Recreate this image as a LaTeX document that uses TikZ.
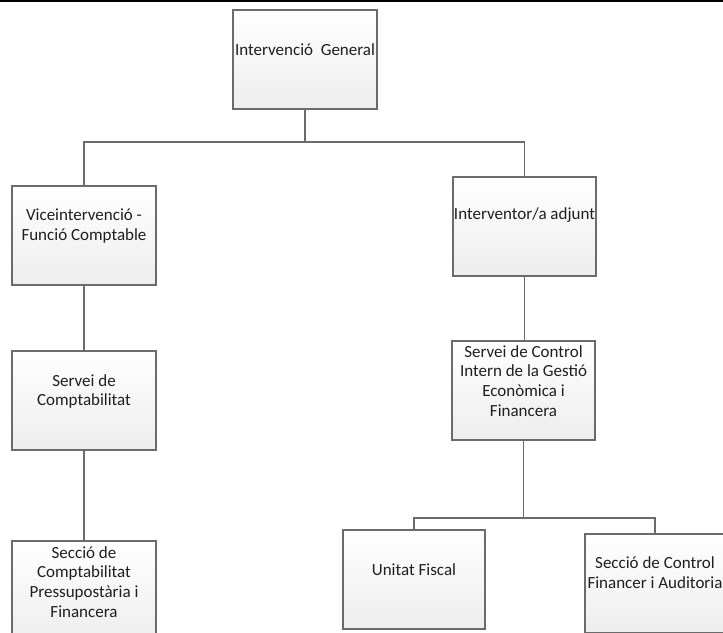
\documentclass[tikz,border=0pt]{standalone}
\usepackage{fontspec}
\setmainfont{Carlito}
\begin{document}
\begin{tikzpicture}[x=1pt,y=-1pt,
  box/.style={draw=black!58, line width=1.3pt, top color=white, bottom color=black!7, inner sep=0pt},
  lbl/.style={font=\fontsize{17}{19.8}\selectfont, text=black!88, align=center, inner sep=0pt},
  conn/.style={draw=black!58, line width=1.3pt}]
\useasboundingbox (0,0) rectangle (723,632);
\draw[line width=2pt] (0,0.8) -- (723,0.8);
% boxes
\node[box, minimum width=144, minimum height=99] (top) at (305,59.5) {};
\node[box, minimum width=144, minimum height=99] (vice) at (84,235.5) {};
\node[box, minimum width=143, minimum height=99] (adj) at (524.5,226.5) {};
\node[box, minimum width=144, minimum height=99] (servc) at (84,400.5) {};
\node[box, minimum width=144, minimum height=99] (secc) at (84,590.5) {};
\node[box, minimum width=143, minimum height=99] (servi) at (523.5,390.5) {};
\node[box, minimum width=142, minimum height=99] (fisc) at (414,579.5) {};
\node[box, minimum width=140, minimum height=99] (audit) at (655,583.5) {};
% texts
\node[lbl] (ttop) at (305,50) {Intervenció\ \ General};
\node[lbl] (tvice) at (84,226) {Viceintervenció -\\Funció Comptable};
\node[lbl] (tadj) at (524.5,215) {Interventor/a adjunt};
\node[lbl] (tservc) at (84,391.5) {Servei de\\Comptabilitat};
\node[lbl] (tsecc) at (84,582) {Secció de\\Comptabilitat\\Pressupostària i\\Financera};
\node[lbl] (tservi) at (523.5,381) {Servei de Control\\Intern de la Gestió\\Econòmica i\\Financera};
\node[lbl] (tfisc) at (414,570) {Unitat Fiscal};
\node[lbl] (taudit) at (655,572.5) {Secció de Control\\Financer i Auditoria};
% connectors
\coordinate (bus1) at (305,142);
\coordinate (bus2) at (523.5,518);
\draw[conn] (top.south) -- (bus1);
\draw[conn] (bus1) -| (vice.north);
\draw[conn] (bus1) -| (adj.north);
\draw[conn] (vice.south) -- (servc.north);
\draw[conn] (servc.south) -- (secc.north);
\draw[conn] (adj.south) -- (adj.south |- servi.north);
\draw[conn] (servi.south) -- (bus2);
\draw[conn] (bus2) -| (fisc.north);
\draw[conn] (bus2) -| (audit.north);
\end{tikzpicture}
\end{document}
